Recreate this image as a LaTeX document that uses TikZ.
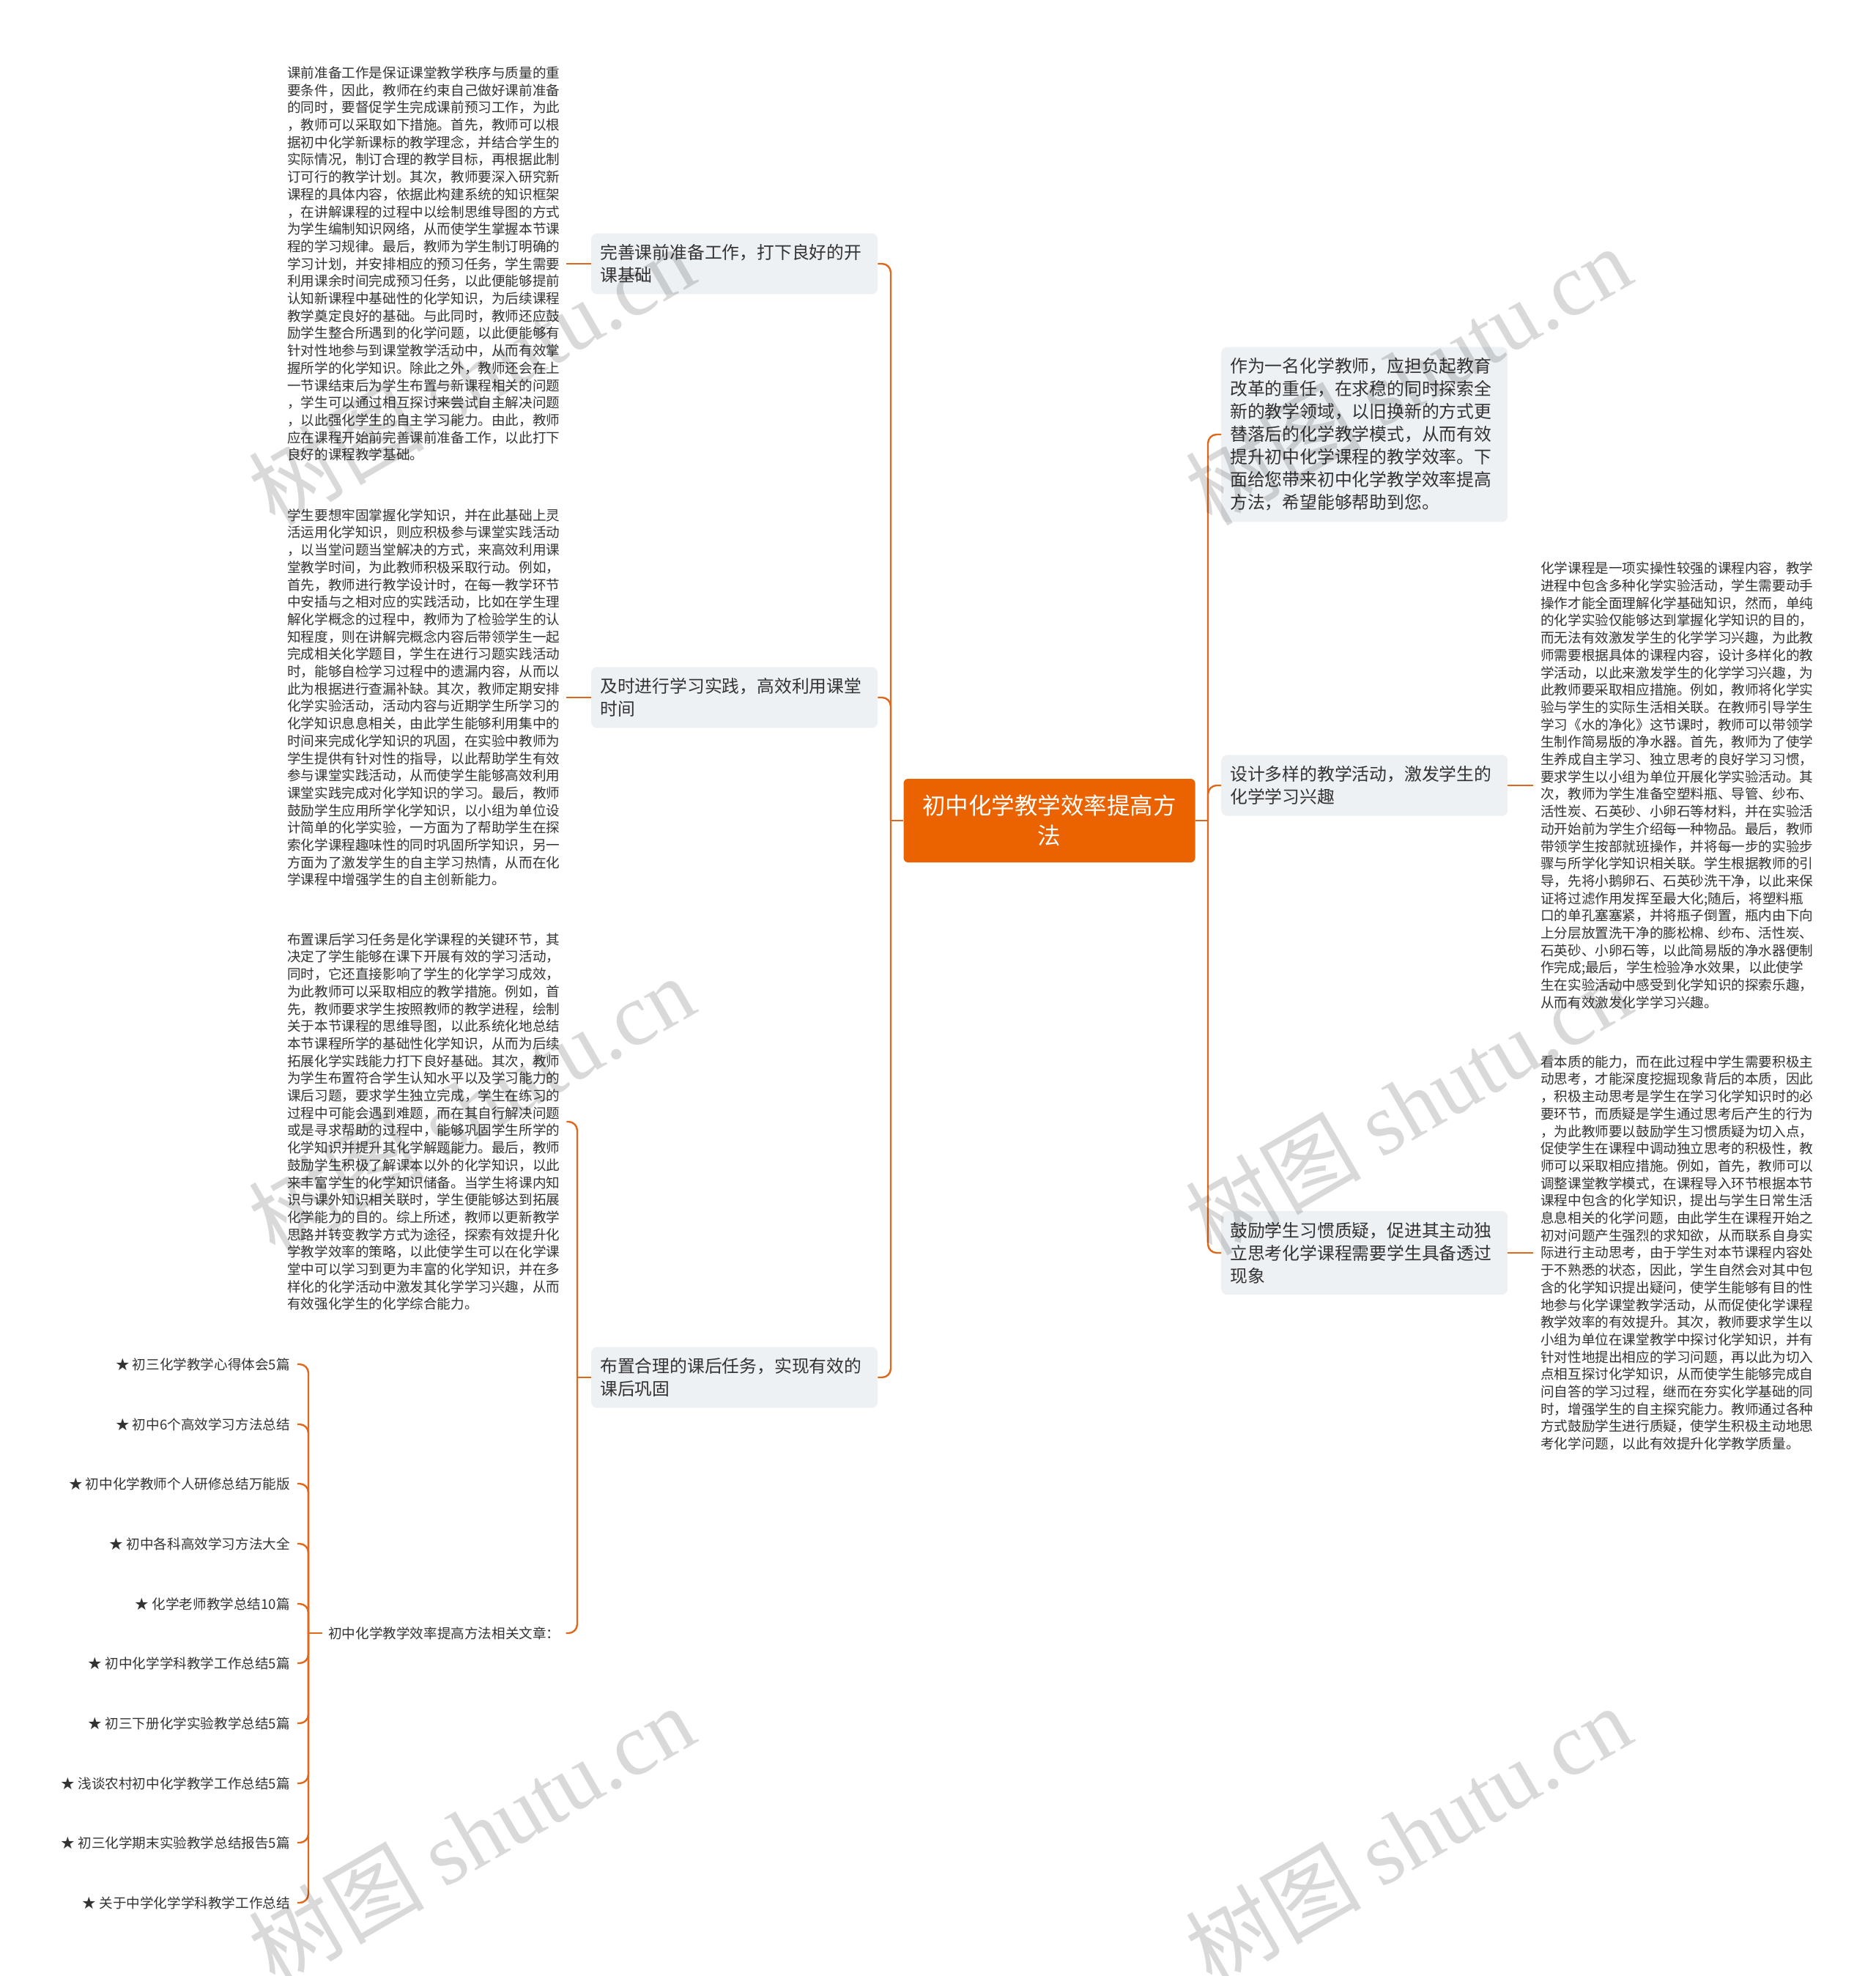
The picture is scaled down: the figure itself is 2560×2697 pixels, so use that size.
\documentclass[tikz,border=0pt]{standalone}
\usepackage{fontspec}
\setmainfont{Noto Sans CJK SC}
\newfontfamily\wmfont{Liberation Serif}
\usetikzlibrary{calc}
\definecolor{connc}{HTML}{E0681C}
\definecolor{rootfill}{HTML}{EA6300}
\definecolor{boxfill}{HTML}{EEF1F4}
\definecolor{txtc}{HTML}{333333}
\begin{document}
\begin{tikzpicture}[x=1pt,y=-1pt,
  rootnode/.style={fill=rootfill, rounded corners=6pt, text=white,
    font=\fontsize{31.5}{41}\selectfont, align=center,
    minimum width=398pt, minimum height=114pt, inner sep=0pt},
  branch/.style={fill=boxfill, rounded corners=8pt, text=txtc,
    font=\fontsize{23.8}{31}\selectfont, align=left, text width=367pt,
    inner xsep=12pt, inner ysep=15pt},
  para/.style={text=txtc, font=\fontsize{18.6}{23.7}\selectfont, align=left,
    inner xsep=9pt, inner ysep=0pt},
  itemnode/.style={text=txtc, font=\fontsize{18.6}{22}\selectfont,
    inner xsep=10pt, inner ysep=2pt, anchor=east},
  link/.style={draw=connc, line width=2.4pt, rounded corners=12pt},
  wm/.style={rotate=30, text=black, opacity=0.15, font=\fontsize{120}{130}\selectfont}
]
\fill[white] (0,0) rectangle (2560,2697);
\useasboundingbox (0,0) rectangle (2560,2697);

% root
\node[rootnode] (root) at (1432.5,1120) {初中化学教学效率提高方\\法};

% left branches
\node[branch, anchor=west] (b1) at (807,360) {完善课前准备工作，打下良好的开\\课基础};
\node[branch, anchor=west] (b2) at (807,952) {及时进行学习实践，高效利用课堂\\时间};
\node[branch, anchor=west] (b3) at (807,1880) {布置合理的课后任务，实现有效的\\课后巩固};

% right branches
\node[branch, anchor=west] (r1) at (1667,593) {作为一名化学教师，应担负起教育\\改革的重任，在求稳的同时探索全\\新的教学领域，以旧换新的方式更\\替落后的化学教学模式，从而有效\\提升初中化学课程的教学效率。下\\面给您带来初中化学教学效率提高\\方法，希望能够帮助到您。};
\node[branch, anchor=west] (r2) at (1667,1072) {设计多样的教学活动，激发学生的\\化学学习兴趣};
\node[branch, anchor=west] (r3) at (1667,1710) {鼓励学生习惯质疑，促进其主动独\\立思考化学课程需要学生具备透过\\现象};

% left paragraphs
\node[para, anchor=west] (t1) at (383,360) {课前准备工作是保证课堂教学秩序与质量的重\\要条件，因此，教师在约束自己做好课前准备\\的同时，要督促学生完成课前预习工作，为此\\，教师可以采取如下措施。首先，教师可以根\\据初中化学新课标的教学理念，并结合学生的\\实际情况，制订合理的教学目标，再根据此制\\订可行的教学计划。其次，教师要深入研究新\\课程的具体内容，依据此构建系统的知识框架\\，在讲解课程的过程中以绘制思维导图的方式\\为学生编制知识网络，从而使学生掌握本节课\\程的学习规律。最后，教师为学生制订明确的\\学习计划，并安排相应的预习任务，学生需要\\利用课余时间完成预习任务，以此便能够提前\\认知新课程中基础性的化学知识，为后续课程\\教学奠定良好的基础。与此同时，教师还应鼓\\励学生整合所遇到的化学问题，以此便能够有\\针对性地参与到课堂教学活动中，从而有效掌\\握所学的化学知识。除此之外，教师还会在上\\一节课结束后为学生布置与新课程相关的问题\\，学生可以通过相互探讨来尝试自主解决问题\\，以此强化学生的自主学习能力。由此，教师\\应在课程开始前完善课前准备工作，以此打下\\良好的课程教学基础。};

\node[para, anchor=west] (t2) at (383,952) {学生要想牢固掌握化学知识，并在此基础上灵\\活运用化学知识，则应积极参与课堂实践活动\\，以当堂问题当堂解决的方式，来高效利用课\\堂教学时间，为此教师积极采取行动。例如，\\首先，教师进行教学设计时，在每一教学环节\\中安插与之相对应的实践活动，比如在学生理\\解化学概念的过程中，教师为了检验学生的认\\知程度，则在讲解完概念内容后带领学生一起\\完成相关化学题目，学生在进行习题实践活动\\时，能够自检学习过程中的遗漏内容，从而以\\此为根据进行查漏补缺。其次，教师定期安排\\化学实验活动，活动内容与近期学生所学习的\\化学知识息息相关，由此学生能够利用集中的\\时间来完成化学知识的巩固，在实验中教师为\\学生提供有针对性的指导，以此帮助学生有效\\参与课堂实践活动，从而使学生能够高效利用\\课堂实践完成对化学知识的学习。最后，教师\\鼓励学生应用所学化学知识，以小组为单位设\\计简单的化学实验，一方面为了帮助学生在探\\索化学课程趣味性的同时巩固所学知识，另一\\方面为了激发学生的自主学习热情，从而在化\\学课程中增强学生的自主创新能力。};

\node[para, anchor=west] (t3) at (383,1531) {布置课后学习任务是化学课程的关键环节，其\\决定了学生能够在课下开展有效的学习活动，\\同时，它还直接影响了学生的化学学习成效，\\为此教师可以采取相应的教学措施。例如，首\\先，教师要求学生按照教师的教学进程，绘制\\关于本节课程的思维导图，以此系统化地总结\\本节课程所学的基础性化学知识，从而为后续\\拓展化学实践能力打下良好基础。其次，教师\\为学生布置符合学生认知水平以及学习能力的\\课后习题，要求学生独立完成，学生在练习的\\过程中可能会遇到难题，而在其自行解决问题\\或是寻求帮助的过程中，能够巩固学生所学的\\化学知识并提升其化学解题能力。最后，教师\\鼓励学生积极了解课本以外的化学知识，以此\\来丰富学生的化学知识储备。当学生将课内知\\识与课外知识相关联时，学生便能够达到拓展\\化学能力的目的。综上所述，教师以更新教学\\思路并转变教学方式为途径，探索有效提升化\\学教学效率的策略，以此使学生可以在化学课\\堂中可以学习到更为丰富的化学知识，并在多\\样化的化学活动中激发其化学学习兴趣，从而\\有效强化学生的化学综合能力。};

\node[para, anchor=west, inner xsep=8pt] (rel) at (440,2229) {初中化学教学效率提高方法相关文章：};

% items
\node[itemnode] (i1) at (406,1862) {★ 初三化学教学心得体会5篇};
\node[itemnode] (i2) at (406,1944) {★ 初中6个高效学习方法总结};
\node[itemnode] (i3) at (406,2025) {★ 初中化学教师个人研修总结万能版};
\node[itemnode] (i4) at (406,2107) {★ 初中各科高效学习方法大全};
\node[itemnode] (i5) at (406,2189) {★ 化学老师教学总结10篇};
\node[itemnode] (i6) at (406,2270) {★ 初中化学学科教学工作总结5篇};
\node[itemnode] (i7) at (406,2352) {★ 初三下册化学实验教学总结5篇};
\node[itemnode] (i8) at (406,2434) {★ 浅谈农村初中化学教学工作总结5篇};
\node[itemnode] (i9) at (406,2515) {★ 初三化学期末实验教学总结报告5篇};
\node[itemnode] (i10) at (406,2597) {★ 关于中学化学学科教学工作总结};

% right paragraphs
\node[para, anchor=west, inner xsep=10pt] (rt2) at (2093,1072) {化学课程是一项实操性较强的课程内容，教学\\进程中包含多种化学实验活动，学生需要动手\\操作才能全面理解化学基础知识，然而，单纯\\的化学实验仅能够达到掌握化学知识的目的，\\而无法有效激发学生的化学学习兴趣，为此教\\师需要根据具体的课程内容，设计多样化的教\\学活动，以此来激发学生的化学学习兴趣，为\\此教师要采取相应措施。例如，教师将化学实\\验与学生的实际生活相关联。在教师引导学生\\学习《水的净化》这节课时，教师可以带领学\\生制作简易版的净水器。首先，教师为了使学\\生养成自主学习、独立思考的良好学习习惯，\\要求学生以小组为单位开展化学实验活动。其\\次，教师为学生准备空塑料瓶、导管、纱布、\\活性炭、石英砂、小卵石等材料，并在实验活\\动开始前为学生介绍每一种物品。最后，教师\\带领学生按部就班操作，并将每一步的实验步\\骤与所学化学知识相关联。学生根据教师的引\\导，先将小鹅卵石、石英砂洗干净，以此来保\\证将过滤作用发挥至最大化;随后，将塑料瓶\\口的单孔塞塞紧，并将瓶子倒置，瓶内由下向\\上分层放置洗干净的膨松棉、纱布、活性炭、\\石英砂、小卵石等，以此简易版的净水器便制\\作完成;最后，学生检验净水效果，以此使学\\生在实验活动中感受到化学知识的探索乐趣，\\从而有效激发化学学习兴趣。};

\node[para, anchor=west, inner xsep=10pt] (rt3) at (2093,1710) {看本质的能力，而在此过程中学生需要积极主\\动思考，才能深度挖掘现象背后的本质，因此\\，积极主动思考是学生在学习化学知识时的必\\要环节，而质疑是学生通过思考后产生的行为\\，为此教师要以鼓励学生习惯质疑为切入点，\\促使学生在课程中调动独立思考的积极性，教\\师可以采取相应措施。例如，首先，教师可以\\调整课堂教学模式，在课程导入环节根据本节\\课程中包含的化学知识，提出与学生日常生活\\息息相关的化学问题，由此学生在课程开始之\\初对问题产生强烈的求知欲，从而联系自身实\\际进行主动思考，由于学生对本节课程内容处\\于不熟悉的状态，因此，学生自然会对其中包\\含的化学知识提出疑问，使学生能够有目的性\\地参与化学课堂教学活动，从而促使化学课程\\教学效率的有效提升。其次，教师要求学生以\\小组为单位在课堂教学中探讨化学知识，并有\\针对性地提出相应的学习问题，再以此为切入\\点相互探讨化学知识，从而使学生能够完成自\\问自答的学习过程，继而在夯实化学基础的同\\时，增强学生的自主探究能力。教师通过各种\\方式鼓励学生进行质疑，使学生积极主动地思\\考化学问题，以此有效提升化学教学质量。};

% junctions
\coordinate (lj) at (1216,1120);
\coordinate (rj) at (1649,1120);
\coordinate (bj3) at (788,1880);
\coordinate (relj) at (421,2229);

% connectors
\draw[link] (root.west) -- (lj);
\draw[link] (lj) |- (b1.east);
\draw[link] (lj) |- (b2.east);
\draw[link] (lj) |- (b3.east);
\draw[link] (root.east) -- (rj);
\draw[link] (rj) |- (r1.west);
\draw[link] (rj) |- (r2.west);
\draw[link] (rj) |- (r3.west);
\draw[link] (b1.west) -- (t1.east);
\draw[link] (b2.west) -- (t2.east);
\draw[link] (b3.west) -- (bj3);
\draw[link] (bj3) |- (t3.east);
\draw[link] (bj3) |- (rel.east);
\draw[link] (r2.east) -- (rt2.west);
\draw[link] (r3.east) -- (rt3.west);
\draw[link] (rel.west) -- (relj);
\foreach \k in {1,...,10} { \draw[link] (relj) |- (i\k.east); }

% watermarks
\foreach \wx/\wy [count=\n] in {643/512, 1922/512, 643/1508, 1922/1508, 643/2504, 1922/2504}
  \node[wm] (wm\n) at (\wx,\wy) {树图 {\wmfont shutu.cn}};
\end{tikzpicture}
\end{document}
